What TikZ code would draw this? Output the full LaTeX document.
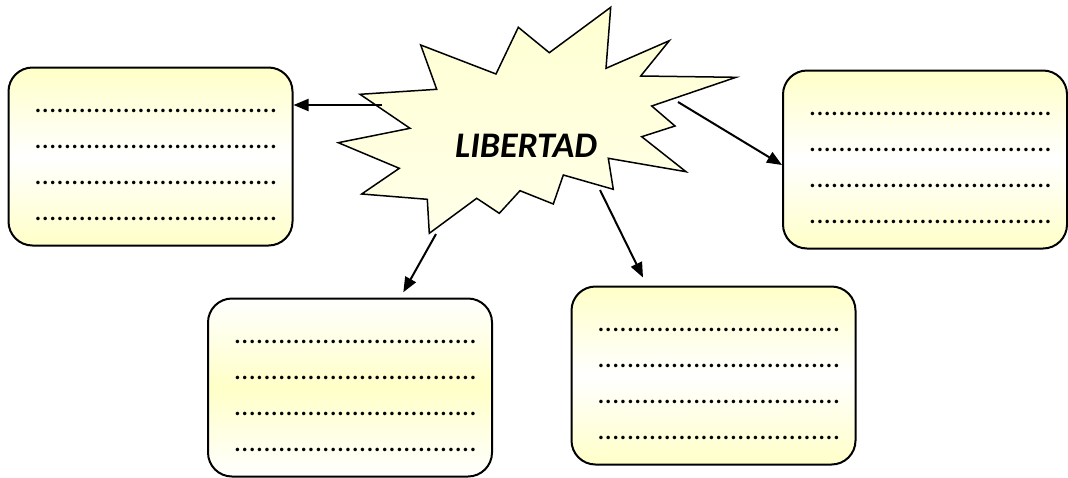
\documentclass[tikz,border=0pt]{standalone}
\usepackage{fontspec}
\setmainfont{Carlito}
\usetikzlibrary{arrows.meta}
\definecolor{paleyellow}{RGB}{255,255,200}
\definecolor{staryellow}{RGB}{255,255,210}
\tikzstyle{block} = [rectangle, draw, line width=1pt, rounded corners=12pt, minimum width=142pt, minimum height=89pt, align=left, font=\fontsize{14.6}{17.9}\selectfont, inner sep=0pt]
\tikzstyle{yellowedge} = [top color=paleyellow, bottom color=paleyellow, middle color=white]
\tikzstyle{yellowmid} = [top color=white, bottom color=white, middle color=paleyellow]
\tikzstyle{link} = [-{Triangle[length=7.5pt,width=6pt]}, line width=1pt]
\newcommand{\dotrow}{\hspace*{5.5pt}.................................}
\newcommand{\dotblock}{\rule{0pt}{10pt}\dotrow\\\dotrow\\\dotrow\\\dotrow}

\begin{document}
\begin{tikzpicture}[x=0.5pt, y=-0.5pt, >=latex]
        \useasboundingbox (0,0) rectangle (1068,477);

        % the burst in the middle
        \draw [line width=0.75pt, top color=staryellow, bottom color=staryellow!50!white]
            (338.3,142.7) -- (410,128.3) -- (360,94.3) -- (436.7,89.3) -- (420.7,45)
            -- (496,74) -- (518.3,27.3) -- (549.3,52.7) -- (610.7,7.3) -- (606,68.3)
            -- (669.3,40.7) -- (640.7,76) -- (736,77.3) -- (651.7,106) -- (675,126)
            -- (641.7,136.7) -- (686,171.7) -- (608.3,158.3) -- (613.3,189.3) -- (563.3,175)
            -- (553.3,204) -- (520,190.7) -- (499.3,213.3) -- (476.7,198.3) -- (429.3,233.3)
            -- (427.3,199.3) -- (361.7,194) -- (399.3,168.3) -- cycle;
        \node [font=\fontsize{18}{20}\selectfont\bfseries\itshape] (libertad) at (526,146) {LIBERTAD};

        \coordinate (fromleft) at (382,105);
        \coordinate (fromright) at (678,102);
        \coordinate (frombelowleft) at (436,234);
        \coordinate (frombelowright) at (600,190);

        % the four boxes
        \node [block, yellowedge] (leftbox) at (150.5,156.5) {\dotblock};
        \node [block, yellowedge] (rightbox) at (925,159.5) {\dotblock};
        \node [block, yellowmid] (lowleftbox) at (350,387.5) {\dotblock};
        \node [block, yellowedge] (lowrightbox) at (713.5,375.5) {\dotblock};

        \draw [link] (fromleft) -- (fromleft -| leftbox.east);
        \draw [link] (fromright) -- ([yshift=-2.75pt]rightbox.west);
        \draw [link, shorten >=3pt] (frombelowleft) -- (lowleftbox);
        \draw [link] (frombelowright) -- ([xshift=-35.25pt, yshift=4pt]lowrightbox.north);
\end{tikzpicture}
\end{document}
